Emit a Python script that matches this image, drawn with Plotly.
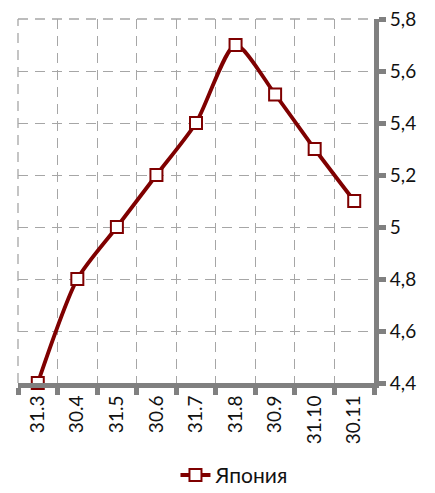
import plotly.graph_objects as go

dates = ["31.3", "30.4", "31.5", "30.6", "31.7", "31.8", "30.9", "31.10", "30.11"]
japan = [4.4, 4.8, 5.0, 5.2, 5.4, 5.7, 5.51, 5.3, 5.1]
y_ticks = [4.4, 4.6, 4.8, 5.0, 5.2, 5.4, 5.6, 5.8]

RED = "#7f0000"
GREY = "#808080"
GRID = "#a6a6a6"
DASH = "10px,7px"
FONT = "Lato"

fig = go.Figure(
    go.Scatter(
        x=dates,
        y=japan,
        mode="lines+markers",
        name="Япония",
        cliponaxis=False,
        line={"color": RED, "width": 3.8, "shape": "spline", "smoothing": 0.7},
        marker={
            "symbol": "square",
            "size": 12,
            "color": "white",
            "line": {"color": RED, "width": 2},
        },
    )
)

# edge gridlines (left and top) that plotly skips
for x0, y0, x1, y1 in [(0, 0, 0, 1), (0, 1, 1, 1)]:
    fig.add_shape(
        type="line", xref="paper", yref="paper",
        x0=x0, y0=y0, x1=x1, y1=y1,
        line={"color": GRID, "width": 1.3, "dash": DASH},
        layer="below",
    )

# page body adds an 8px offset, margins account for it
fig.update_layout(
    width=435,
    height=493,
    margin={"l": 10, "r": 69, "t": 11, "b": 118, "autoexpand": False},
    plot_bgcolor="white",
    paper_bgcolor="white",
    separators=", ",
    font={"family": FONT, "size": 19, "color": "#111111"},
    showlegend=True,
    legend={
        "orientation": "h",
        "xref": "container",
        "yref": "container",
        "x": 0.385,
        "y": 0.052,
        "xanchor": "left",
        "yanchor": "middle",
        "font": {"size": 21},
    },
)

axis_style = dict(
    ticks="outside",
    ticklen=7,
    tickwidth=5,
    tickcolor=GREY,
    showline=True,
    linecolor=GREY,
    linewidth=5,
    showgrid=True,
    gridcolor=GRID,
    griddash=DASH,
    gridwidth=1.3,
    automargin=False,
    ticklabeloverflow="allow",
)

fig.update_xaxes(
    type="category",
    tickangle=-90,
    tickson="boundaries",
    range=[-0.5, 8.5],
    **axis_style,
)

fig.update_yaxes(
    side="right",
    range=[4.4, 5.8],
    tickvals=y_ticks,
    zeroline=False,
    **axis_style,
)

fig.write_html("out.html")
